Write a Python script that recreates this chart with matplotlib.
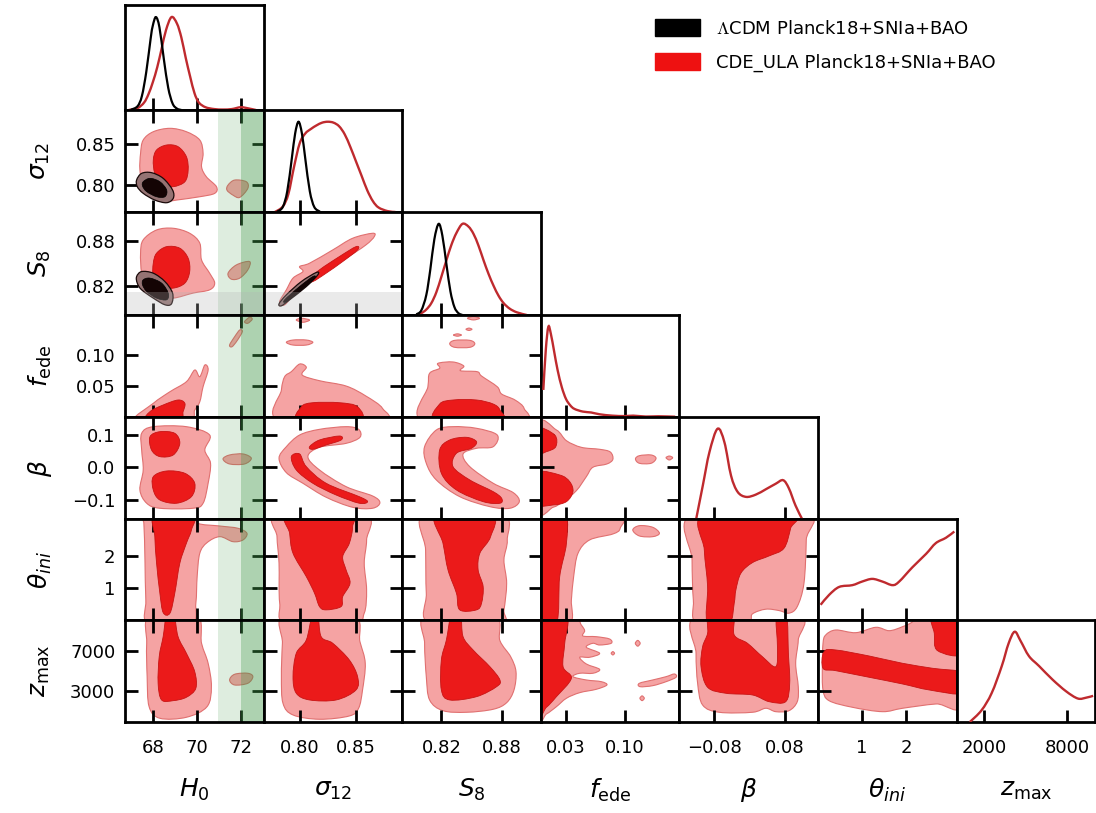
import numpy as np
import matplotlib.pyplot as plt
from matplotlib.path import Path
from matplotlib.patches import PathPatch, Patch

# ---------------- 1D marginals (peak normalised to 1) ----------
h0_x_lcdm = [67.0, 67.3, 67.5, 67.7, 67.9, 68.0, 68.14, 68.3, 68.5, 68.7, 68.9, 69.1, 69.3]
h0_p_lcdm = [0.003, 0.04, 0.15, 0.41, 0.77, 0.91, 1.0, 0.89, 0.55, 0.24, 0.07, 0.015, 0.0]
h0_x_cde = [66.9, 67.3, 67.6, 67.8, 68.0, 68.2, 68.4, 68.6, 68.85, 69.1, 69.3, 69.5, 69.7,
            69.9, 70.1, 70.4, 70.8, 71.2, 71.6, 72.0, 72.3, 72.7]
h0_p_cde = [0.0, 0.02, 0.08, 0.17, 0.3, 0.46, 0.66, 0.86, 1.0, 0.93, 0.78, 0.56, 0.36,
            0.18, 0.08, 0.03, 0.01, 0.005, 0.01, 0.03, 0.02, 0.0]

s12_x_lcdm = [0.780, 0.785, 0.789, 0.793, 0.796, 0.799, 0.802, 0.805, 0.809, 0.813, 0.818]
s12_p_lcdm = [0.004, 0.055, 0.23, 0.59, 0.87, 1.0, 0.87, 0.59, 0.23, 0.055, 0.004]
s12_x_cde = [0.778, 0.785, 0.790, 0.795, 0.800, 0.805, 0.810, 0.815, 0.820, 0.825, 0.830,
             0.835, 0.840, 0.845, 0.850, 0.855, 0.860, 0.865, 0.870, 0.878, 0.885]
s12_p_cde = [0.0, 0.06, 0.2, 0.5, 0.76, 0.87, 0.92, 0.96, 0.99, 1.0, 0.99,
             0.95, 0.86, 0.72, 0.56, 0.4, 0.24, 0.12, 0.05, 0.01, 0.0]

s8_x_lcdm = [0.795, 0.800, 0.805, 0.809, 0.813, 0.8173, 0.821, 0.825, 0.829, 0.833, 0.837, 0.841]
s8_p_lcdm = [0.007, 0.05, 0.22, 0.5, 0.83, 1.0, 0.87, 0.56, 0.26, 0.087, 0.02, 0.0]
s8_x_cde = [0.795, 0.800, 0.805, 0.810, 0.815, 0.820, 0.825, 0.830, 0.835, 0.841, 0.847,
            0.852, 0.857, 0.862, 0.867, 0.872, 0.877, 0.882, 0.888, 0.895, 0.905]
s8_p_cde = [0.0, 0.02, 0.06, 0.13, 0.25, 0.42, 0.6, 0.77, 0.9, 1.0, 0.97,
            0.89, 0.76, 0.6, 0.45, 0.32, 0.21, 0.13, 0.07, 0.03, 0.0]

fede_x_cde = [0.003, 0.006, 0.009, 0.012, 0.016, 0.020, 0.025, 0.030, 0.035, 0.040, 0.050,
              0.060, 0.070, 0.085, 0.100, 0.110, 0.125, 0.140, 0.160]
fede_p_cde = [0.3, 0.75, 1.0, 0.92, 0.72, 0.52, 0.33, 0.2, 0.13, 0.09, 0.06,
              0.05, 0.03, 0.015, 0.01, 0.015, 0.005, 0.008, 0.003]

beta_x_cde = [-0.121, -0.106, -0.091, -0.0725, -0.057, -0.042, -0.027, -0.008, 0.014,
              0.037, 0.059, 0.076, 0.089, 0.104, 0.119]
beta_p_cde = [0.0, 0.37, 0.74, 1.0, 0.85, 0.48, 0.3, 0.245, 0.27, 0.33, 0.39, 0.43, 0.34, 0.15, 0.0]

theta_x_cde = [0.06, 0.25, 0.48, 0.78, 1.0, 1.23, 1.46, 1.69, 1.84, 2.14, 2.45, 2.67, 2.90, 3.09]
theta_p_cde = [0.17, 0.28, 0.37, 0.39, 0.43, 0.46, 0.43, 0.39, 0.43, 0.59, 0.74, 0.86, 0.92, 0.99]

zmax_x_cde = [954, 1800, 2530, 3260, 3750, 4190, 4610, 5220, 5950, 6920, 7900, 8750, 9360, 9850]
zmax_p_cde = [0.0, 0.13, 0.32, 0.62, 0.87, 1.0, 0.9, 0.73, 0.62, 0.47, 0.34, 0.26, 0.27, 0.29]

# ---------------- 2D credible regions (outlines) ----------------
s12_h0_out = [(67.56, 0.8548), (68.02, 0.8648), (68.78, 0.8689), (69.53, 0.8648), (70.14, 0.8548),
              (70.29, 0.8388), (70.22, 0.8226), (70.44, 0.8105), (70.9, 0.7985), (70.82, 0.7905),
              (70.14, 0.7864), (69.08, 0.7824), (68.47, 0.7804), (67.87, 0.7864), (67.56, 0.7985),
              (67.41, 0.8186), (67.44, 0.8388)]
s12_h0_in = [(68.17, 0.8428), (68.63, 0.8488), (69.15, 0.8468), (69.53, 0.8347), (69.61, 0.8186),
             (69.46, 0.8045), (68.93, 0.7985), (68.4, 0.8005), (68.09, 0.8146), (68.02, 0.8307)]
s12_h0_blob = [(71.43, 0.8005), (71.73, 0.8065), (72.26, 0.8045), (72.33, 0.7965), (71.96, 0.7856),
               (71.65, 0.7884), (71.38, 0.7944)]
s12_h0_lcdm_out = [(67.26, 0.8066), (67.49, 0.8146), (67.94, 0.8154), (68.47, 0.8086), (68.90, 0.7945),
                   (68.93, 0.7845), (68.63, 0.7792), (68.09, 0.7824), (67.56, 0.7905), (67.29, 0.7985)]
s12_h0_lcdm_in = [(67.56, 0.8045), (67.87, 0.8086), (68.32, 0.8045), (68.63, 0.7945), (68.55, 0.7864),
                  (68.17, 0.7864), (67.72, 0.7925), (67.53, 0.7993)]

s8_h0_out = [(67.56, 0.8816), (68.17, 0.8949), (68.93, 0.8972), (69.68, 0.8905), (70.14, 0.8772),
             (70.22, 0.8548), (70.59, 0.837), (70.82, 0.8237), (70.59, 0.8147), (69.83, 0.8103),
             (68.93, 0.8036), (68.17, 0.8058), (67.72, 0.8147), (67.49, 0.837), (67.44, 0.8638)]
s8_h0_in = [(68.17, 0.8638), (68.63, 0.8726), (69.23, 0.8705), (69.61, 0.8571), (69.68, 0.8392),
            (69.46, 0.8237), (68.93, 0.817), (68.32, 0.8191), (68.02, 0.8325), (68.02, 0.8504)]
s8_h0_blob = [(71.43, 0.837), (71.81, 0.8481), (72.41, 0.8526), (72.33, 0.8415), (71.96, 0.8304),
              (71.58, 0.829)]
s8_h0_lcdm_out = [(67.26, 0.8325), (67.49, 0.8392), (68.02, 0.837), (68.55, 0.8258), (68.90, 0.8103),
                  (68.85, 0.796), (68.55, 0.7947), (68.02, 0.8036), (67.49, 0.8147), (67.29, 0.8237)]
s8_h0_lcdm_in = [(67.56, 0.8281), (67.87, 0.8304), (68.40, 0.8237), (68.70, 0.8103), (68.63, 0.8014),
                 (68.17, 0.8036), (67.72, 0.8124), (67.53, 0.8214)]

s8_s12_out = [(0.7823, 0.799), (0.7882, 0.8147), (0.7941, 0.8304), (0.8029, 0.8392), (0.8, 0.8459),
              (0.8088, 0.8504), (0.8294, 0.8682), (0.847, 0.8838), (0.8647, 0.8905), (0.8662, 0.886),
              (0.8588, 0.8749), (0.8412, 0.8571), (0.8235, 0.8415), (0.8088, 0.8258), (0.7971, 0.8124),
              (0.7867, 0.7947)]
s8_s12_in = [(0.8059, 0.8258), (0.8176, 0.8415), (0.8353, 0.8593), (0.85, 0.8726), (0.8514, 0.8682),
             (0.8382, 0.8526), (0.8235, 0.837), (0.8117, 0.8258)]
s8_s12_lcdm_out = [(0.7817, 0.796), (0.7882, 0.808), (0.8015, 0.8258), (0.8147, 0.8379), (0.8161, 0.8348),
                   (0.8059, 0.8191), (0.7911, 0.8014), (0.7838, 0.7933)]
s8_s12_lcdm_in = [(0.7867, 0.8014), (0.7999, 0.8191), (0.8117, 0.8325), (0.8132, 0.8304),
                  (0.8015, 0.8147), (0.7882, 0.799)]

fede_h0_out = [(67.2, -0.006), (68.02, 0.0221), (68.78, 0.0409), (69.53, 0.0571), (69.91, 0.076),
               (70.14, 0.0652), (70.37, 0.0841), (70.52, 0.076), (70.29, 0.049), (70.14, 0.0247),
               (69.91, 0.0113), (69.6, -0.006)]
fede_h0_in = [(67.87, 0.0087), (68.47, 0.0194), (69.15, 0.0275), (69.46, 0.0221), (69.38, 0.0087),
              (69.2, -0.006), (67.7, -0.006)]
fede_h0_blob1 = [(71.5, 0.1165), (71.73, 0.1299), (71.96, 0.1407), (72.08, 0.138), (71.84, 0.1234),
                 (71.61, 0.1137)]
fede_h0_blob2 = [(72.18, 0.1542), (72.41, 0.1613), (72.53, 0.1581), (72.33, 0.1516)]

fede_s12_out = [(0.7823, -0.006), (0.7838, 0.0436), (0.7867, 0.0652), (0.7926, 0.0733), (0.8, 0.0857),
                (0.8059, 0.0804), (0.8023, 0.0679), (0.8176, 0.0587), (0.8412, 0.0501), (0.8588, 0.0339),
                (0.8735, 0.014), (0.8721, -0.006)]
fede_s12_in = [(0.8, -0.006), (0.8015, 0.0166), (0.8117, 0.0231), (0.8353, 0.0231), (0.8514, 0.0166),
               (0.8523, -0.006)]
fede_s12_blob1 = [(0.7882, 0.1208), (0.7941, 0.1245), (0.8059, 0.1245), (0.8117, 0.1208),
                  (0.8059, 0.1164), (0.7941, 0.1164)]
fede_s12_blob2 = [(0.7970, 0.1569), (0.8015, 0.1597), (0.8088, 0.1569), (0.8029, 0.1532)]

fede_s8_out = [(0.8016, -0.006), (0.8066, 0.049), (0.8083, 0.0707), (0.8183, 0.0788), (0.8166, 0.0868),
               (0.8316, 0.089), (0.8423, 0.0825), (0.839, 0.0749), (0.8556, 0.0733), (0.86, 0.0663),
               (0.8756, 0.049), (0.88, 0.0372), (0.8933, 0.0275), (0.9023, 0.014), (0.899, -0.006)]
fede_s8_in = [(0.815, -0.006), (0.8183, 0.021), (0.8316, 0.0275), (0.855, 0.0275), (0.8716, 0.021),
              (0.8783, 0.0113), (0.8783, -0.006)]
fede_s8_blob1 = [(0.8283, 0.1186), (0.8333, 0.124), (0.8483, 0.124), (0.8533, 0.1186), (0.8483, 0.1127),
                 (0.8333, 0.1127)]
fede_s8_blob2 = [(0.832, 0.1326), (0.836, 0.1345), (0.840, 0.1326), (0.836, 0.1307)]
fede_s8_blob3 = [(0.8445, 0.1419), (0.8475, 0.1438), (0.8505, 0.1419), (0.8475, 0.14)]
fede_s8_blob4 = [(0.846, 0.1597), (0.852, 0.1625), (0.858, 0.1597), (0.852, 0.157)]

beta_h0_out = [(67.49, 0.1048), (68.02, 0.1252), (69.53, 0.1252), (70.59, 0.0996), (70.37, 0.0535),
               (70.63, 0.0125), (70.52, -0.049), (70.29, -0.1105), (69.83, -0.1259), (68.32, -0.1259),
               (67.72, -0.1105), (67.41, -0.0696), (67.56, -0.0081), (67.49, 0.0535)]
beta_h0_in1 = [(67.87, 0.0944), (68.32, 0.1098), (69.0, 0.1048), (69.23, 0.0741), (68.93, 0.0381),
               (68.32, 0.033), (67.94, 0.0535)]
beta_h0_in2 = [(68.02, -0.0287), (68.63, -0.0112), (69.46, -0.0183), (69.91, -0.049), (69.76, -0.0902),
               (69.08, -0.1105), (68.32, -0.1004), (68.02, -0.0696)]
beta_h0_blob = [(71.2, 0.0258), (71.5, 0.0381), (72.11, 0.0412), (72.49, 0.0279), (72.18, 0.0104),
                (71.5, 0.0104)]

beta_s12_out = [(0.7817, 0.0279), (0.7882, 0.0636), (0.8, 0.0996), (0.8176, 0.117), (0.8412, 0.1252),
                (0.8523, 0.117), (0.8535, 0.0925), (0.8412, 0.0739), (0.8176, 0.0617), (0.8073, 0.0329),
                (0.8176, -0.0081), (0.8412, -0.0594), (0.8647, -0.0881), (0.8712, -0.1087),
                (0.8647, -0.1259), (0.847, -0.1229), (0.8235, -0.092), (0.8029, -0.049), (0.7882, -0.0163)]
beta_s12_in1 = [(0.8088, 0.0636), (0.8176, 0.0842), (0.8353, 0.0965), (0.8368, 0.0842), (0.8235, 0.0688),
                (0.8117, 0.0556)]
beta_s12_in2 = [(0.7926, 0.0329), (0.8, 0.0412), (0.8059, 0.0022), (0.8235, -0.049), (0.8529, -0.0902),
                (0.8603, -0.1056), (0.8529, -0.1105), (0.8323, -0.085), (0.8117, -0.049), (0.7970, -0.0081)]

beta_s8_out = [(0.8033, 0.0636), (0.815, 0.115), (0.8316, 0.1252), (0.855, 0.1202), (0.8756, 0.0996),
               (0.8716, 0.0636), (0.855, 0.0587), (0.8416, 0.0412), (0.8483, 0.0021), (0.8716, -0.049),
               (0.8916, -0.0779), (0.8976, -0.1056), (0.8883, -0.1259), (0.8683, -0.121),
               (0.8383, -0.0902), (0.815, -0.0388), (0.805, 0.0125)]
beta_s8_in = [(0.8183, 0.0535), (0.8283, 0.0842), (0.845, 0.0925), (0.855, 0.079), (0.85, 0.0587),
              (0.835, 0.0433), (0.8316, 0.0021), (0.8483, -0.0388), (0.8716, -0.0748), (0.88, -0.0952),
              (0.8783, -0.1105), (0.8616, -0.1056), (0.835, -0.0696), (0.82, -0.0183)]

beta_fede_out = [(-0.004, 0.13), (0.0186, 0.115), (0.0305, 0.0821), (0.0482, 0.0617), (0.07, 0.0556),
                 (0.0827, 0.0473), (0.0858, 0.0248), (0.0787, 0.0104), (0.062, 0.0002), (0.0542, -0.0287),
                 (0.0423, -0.0718), (0.0265, -0.1056), (0.0146, -0.1229), (-0.004, -0.13)]
beta_fede_in1 = [(-0.004, 0.12), (0.0166, 0.0996), (0.0178, 0.0636), (0.0067, 0.0483), (-0.004, 0.045)]
beta_fede_in2 = [(-0.004, -0.0183), (0.0225, -0.0235), (0.0344, -0.044), (0.0383, -0.0748),
                 (0.0305, -0.1056), (0.0146, -0.1158), (-0.004, -0.1107)]
beta_fede_blob1 = [(0.1127, 0.0258), (0.1174, 0.0359), (0.1313, 0.0381), (0.1372, 0.0279),
                   (0.1313, 0.0125), (0.1174, 0.0125)]
beta_fede_blob2 = [(0.1491, 0.0298), (0.153, 0.0348), (0.157, 0.0298), (0.153, 0.0227)]

theta_h0_out = [(67.49, 3.3), (69.98, 3.3), (70.06, 3.008), (71.05, 2.924), (71.88, 2.853), (72.29, 2.697),
                (72.11, 2.49), (71.65, 2.437), (71.05, 2.592), (70.47, 2.406), (70.14, 2.076), (70.02, 1.35),
                (69.96, 0.524), (69.76, -0.1), (67.79, -0.1), (67.68, 0.626), (67.64, 1.868), (67.59, 3.008)]
theta_h0_in = [(68.09, 3.3), (69.83, 3.3), (69.76, 2.8), (69.53, 2.387), (69.23, 1.766), (69.0, 0.834),
               (68.78, 0.213), (68.47, 0.232), (68.32, 0.834), (68.17, 1.766), (68.09, 2.592)]

theta_s12_out = [(0.7808, 3.3), (0.8573, 3.3), (0.8594, 2.49), (0.8573, 1.766), (0.8594, 0.937),
                 (0.8573, 0.213), (0.847, -0.1), (0.7882, -0.1), (0.7823, 0.524), (0.7817, 1.766),
                 (0.7799, 2.592)]
theta_s12_in = [(0.7896, 3.3), (0.8441, 3.3), (0.847, 2.903), (0.8441, 2.387), (0.8382, 1.97),
                (0.8412, 1.558), (0.8447, 1.145), (0.8382, 0.728), (0.8368, 0.418), (0.8235, 0.315),
                (0.8176, 0.418), (0.8132, 0.834), (0.8059, 1.35), (0.7941, 2.076), (0.7911, 2.697)]

theta_s8_out = [(0.8033, 3.3), (0.88, 3.3), (0.8856, 2.49), (0.8823, 1.868), (0.885, 1.145),
                (0.8823, 0.315), (0.8783, -0.1), (0.8083, -0.1), (0.805, 0.834), (0.8043, 2.179)]
theta_s8_in = [(0.815, 3.3), (0.87, 3.3), (0.869, 2.592), (0.8583, 2.076), (0.8566, 1.558), (0.8616, 1.04),
               (0.86, 0.524), (0.855, 0.315), (0.8383, 0.315), (0.835, 0.834), (0.8266, 1.558),
               (0.8216, 2.387)]

theta_fede_out = [(-0.004, 3.3), (0.0917, 3.3), (0.0945, 2.853), (0.0858, 2.676), (0.0581, 2.49),
                  (0.0443, 2.076), (0.0391, 1.35), (0.0364, 0.626), (0.0344, -0.1), (-0.004, -0.1)]
theta_fede_in = [(-0.004, 3.3), (0.0285, 3.3), (0.0305, 2.387), (0.0225, 1.35), (0.0186, -0.1),
                 (-0.004, -0.1)]
theta_fede_blob = [(0.1095, 2.8), (0.1174, 2.934), (0.1332, 2.884), (0.1412, 2.697), (0.1332, 2.592),
                   (0.1174, 2.614)]

theta_beta_out = [(-0.129, 3.3), (0.127, 3.3), (0.1284, 2.49), (0.1232, 1.145), (0.108, 0.418),
                  (0.0893, 0.213), (0.0667, 0.294), (0.0367, 0.336), (0.0065, 0.191), (-0.0084, -0.1),
                  (-0.1177, -0.1), (-0.1274, 0.626), (-0.1303, 1.868)]
theta_beta_in = [(-0.1026, 3.3), (0.0983, 3.3), (0.093, 2.853), (0.078, 2.232), (0.0442, 1.993),
                 (0.0065, 1.784), (-0.0197, 1.455), (-0.031, 0.937), (-0.0348, 0.524), (-0.046, -0.1),
                 (-0.095, -0.1), (-0.0951, 1.04), (-0.1026, 2.179)]

z_h0_out = [(67.87, 10500), (69.98, 10500), (70.22, 7717), (70.52, 5757), (70.67, 3463), (70.47, 1503),
            (69.53, 464), (68.32, 366), (67.83, 1503), (67.74, 4443), (67.72, 7717)]
z_h0_in = [(68.63, 10500), (68.96, 10500), (69.15, 8364), (69.53, 6737), (69.91, 4933), (69.96, 3306),
           (69.53, 2425), (68.93, 2092), (68.4, 2160), (68.24, 3796), (68.29, 6403), (68.47, 8364)]
z_h0_blob = [(71.5, 4120), (71.73, 4679), (72.33, 4777), (72.56, 4443), (72.33, 3797), (71.73, 3630)]

z_s12_out = [(0.7867, 10500), (0.847, 10500), (0.8535, 7873), (0.8582, 5757), (0.8558, 3140),
             (0.8523, 1346), (0.8441, 592), (0.8176, 269), (0.7941, 690), (0.7852, 1837),
             (0.7838, 4443), (0.7847, 7717)]
z_s12_in = [(0.8112, 10500), (0.8161, 10500), (0.8191, 8364), (0.8294, 7717), (0.8441, 6080),
            (0.8514, 4443), (0.85, 3140), (0.8324, 2160), (0.8088, 2160), (0.797, 2817),
            (0.7941, 4443), (0.797, 6737), (0.8059, 8040)]

z_s8_out = [(0.805, 10500), (0.8716, 10500), (0.8783, 7971), (0.889, 6403), (0.8943, 4933),
            (0.8923, 3140), (0.885, 1896), (0.8716, 1249), (0.845, 954), (0.8216, 1111),
            (0.8083, 2160), (0.805, 4443), (0.8033, 7717)]
z_s8_in = [(0.83, 10500), (0.839, 10500), (0.8416, 8364), (0.8516, 7060), (0.8683, 5424),
           (0.8783, 4120), (0.875, 3463), (0.855, 2483), (0.8283, 2160), (0.82, 3140),
           (0.82, 6080), (0.825, 8040)]

z_fede_out = [(-0.004, 10500), (0.0383, 10500), (0.0482, 9510), (0.0522, 8952), (0.0502, 8432),
              (0.066, 8364), (0.0818, 8138), (0.0838, 7717), (0.07, 7550), (0.062, 7717),
              (0.0542, 7325), (0.07, 6737), (0.0581, 6345), (0.0463, 6345), (0.0542, 5688),
              (0.07, 5163), (0.062, 4777), (0.0463, 4777), (0.0383, 4443), (0.0542, 4120),
              (0.072, 3953), (0.0787, 3630), (0.066, 3206), (0.0463, 2875), (0.0305, 2327),
              (0.0186, 1503), (0.0067, 788), (-0.004, 500)]
z_fede_in = [(-0.004, 10500), (0.0305, 10500), (0.0285, 7717), (0.0265, 5424), (0.0364, 4287),
             (0.0186, 2483), (0.0067, 1444), (-0.004, 1000)]
z_fede_blob1 = [(0.1174, 3797), (0.1332, 4120), (0.1491, 4443), (0.159, 4708), (0.161, 4385),
                (0.1491, 3953), (0.1332, 3561), (0.1182, 3463)]
z_fede_blob2 = [(0.1125, 7717), (0.1154, 8000), (0.1183, 7717), (0.1154, 7434)]
z_fede_blob3 = [(0.1180, 2327), (0.1206, 2560), (0.1232, 2327), (0.1206, 2094)]
z_fede_blob4 = [(0.0838, 6737), (0.0858, 6900), (0.0878, 6737), (0.0858, 6574)]

z_beta_out = [(-0.1177, 10500), (0.108, 10500), (0.1103, 8040), (0.1044, 5757), (0.1103, 3463),
              (0.108, 1993), (0.0893, 1111), (0.0593, 1013), (0.0367, 1346), (0.0065, 954),
              (-0.0687, 954), (-0.1064, 1670), (-0.1177, 3797), (-0.1213, 6737)]
z_beta_in = [(-0.0913, 10500), (-0.0387, 10500), (-0.0348, 8530), (-0.0048, 7717), (0.029, 6403),
             (0.0593, 5424), (0.0631, 7384), (0.0608, 10500), (0.0834, 10500), (0.0879, 6737),
             (0.0909, 3797), (0.0818, 1993), (0.0442, 1993), (0.0065, 2650), (-0.0536, 2817),
             (-0.0951, 3404), (-0.11, 5424), (-0.1064, 7384), (-0.0951, 8697)]

z_theta_out = [(0.175, 8530), (0.402, 9020), (0.857, 8757), (1.311, 9284), (1.614, 8952), (1.916, 9343),
               (2.143, 9834), (2.2, 10500), (3.3, 10500), (3.3, 1800), (2.675, 1768), (1.916, 1346),
               (1.461, 1013), (0.78, 1444), (0.25, 2092), (0.114, 3140), (0.098, 5424), (0.114, 7717)]
z_theta_in1 = [(0.136, 6894), (0.402, 7060), (1.159, 6472), (1.916, 5757), (2.598, 5267), (3.3, 4777),
               (3.3, 2817), (2.523, 3140), (1.916, 3728), (1.159, 4385), (0.402, 5031), (0.114, 5267)]
z_theta_in2 = [(2.598, 10500), (3.3, 10500), (3.3, 6737), (2.711, 6991), (2.636, 8697)]

# axis settings
lims = [(66.73, 73.05), (0.768, 0.891), (0.781, 0.919), (0.0, 0.165), (-0.159, 0.155), (0.0, np.pi), (0, 10000)]
xticks = [[68, 70, 72], [0.80, 0.85], [0.82, 0.88], [0.03, 0.10], [-0.08, 0.08], [1, 2], [2000, 8000]]
xticklabels = [['68', '70', '72'], ['0.80', '0.85'], ['0.82', '0.88'], ['0.03', '0.10'],
               ['\u22120.08', '0.08'], ['1', '2'], ['2000', '8000']]
yticks = [None, [0.80, 0.85], [0.82, 0.88], [0.05, 0.10], [-0.1, 0.0, 0.1], [1, 2], [3000, 7000]]
yticklabels = [None, ['0.80', '0.85'], ['0.82', '0.88'], ['0.05', '0.10'], ['\u22120.1', '0.0', '0.1'],
               ['1', '2'], ['3000', '7000']]
names = [r'$H_0$', r'$\sigma_{12}$', r'$S_8$', r'$f_{\rm ede}$', r'$\beta$', r'$\theta_{ini}$', r'$z_{\rm max}$']

OUT_C, IN_C = '#f5a3a3', '#eb1a1a'
LOUT_C, LIN_C = '#957373', '#140404'
LINE_C = '#bf2a2e'

marg_cde = {0: (h0_x_cde, h0_p_cde), 1: (s12_x_cde, s12_p_cde), 2: (s8_x_cde, s8_p_cde),
            3: (fede_x_cde, fede_p_cde), 4: (beta_x_cde, beta_p_cde), 5: (theta_x_cde, theta_p_cde),
            6: (zmax_x_cde, zmax_p_cde)}
marg_lcdm = {0: (h0_x_lcdm, h0_p_lcdm), 1: (s12_x_lcdm, s12_p_lcdm), 2: (s8_x_lcdm, s8_p_lcdm)}

# o = outer region, i = inner region, lo/li = LCDM regions
regions = {
    (1, 0): [('o', s12_h0_out), ('o', s12_h0_blob), ('i', s12_h0_in), ('lo', s12_h0_lcdm_out), ('li', s12_h0_lcdm_in)],
    (2, 0): [('o', s8_h0_out), ('o', s8_h0_blob), ('i', s8_h0_in), ('lo', s8_h0_lcdm_out), ('li', s8_h0_lcdm_in)],
    (2, 1): [('o', s8_s12_out), ('i', s8_s12_in), ('lo', s8_s12_lcdm_out), ('li', s8_s12_lcdm_in)],
    (3, 0): [('o', fede_h0_out), ('o', fede_h0_blob1), ('o', fede_h0_blob2), ('i', fede_h0_in)],
    (3, 1): [('o', fede_s12_out), ('o', fede_s12_blob1), ('o', fede_s12_blob2), ('i', fede_s12_in)],
    (3, 2): [('o', fede_s8_out), ('o', fede_s8_blob1), ('o', fede_s8_blob2), ('o', fede_s8_blob3),
             ('o', fede_s8_blob4), ('i', fede_s8_in)],
    (4, 0): [('o', beta_h0_out), ('o', beta_h0_blob), ('i', beta_h0_in1), ('i', beta_h0_in2)],
    (4, 1): [('o', beta_s12_out), ('i', beta_s12_in1), ('i', beta_s12_in2)],
    (4, 2): [('o', beta_s8_out), ('i', beta_s8_in)],
    (4, 3): [('o', beta_fede_out), ('o', beta_fede_blob1), ('o', beta_fede_blob2),
             ('i', beta_fede_in1), ('i', beta_fede_in2)],
    (5, 0): [('o', theta_h0_out), ('i', theta_h0_in)],
    (5, 1): [('o', theta_s12_out), ('i', theta_s12_in)],
    (5, 2): [('o', theta_s8_out), ('i', theta_s8_in)],
    (5, 3): [('o', theta_fede_out), ('o', theta_fede_blob), ('i', theta_fede_in)],
    (5, 4): [('o', theta_beta_out), ('i', theta_beta_in)],
    (6, 0): [('o', z_h0_out), ('o', z_h0_blob), ('i', z_h0_in)],
    (6, 1): [('o', z_s12_out), ('i', z_s12_in)],
    (6, 2): [('o', z_s8_out), ('i', z_s8_in)],
    (6, 3): [('o', z_fede_out), ('o', z_fede_blob1), ('o', z_fede_blob2), ('o', z_fede_blob3),
             ('o', z_fede_blob4), ('i', z_fede_in)],
    (6, 4): [('o', z_beta_out), ('i', z_beta_in)],
    (6, 5): [('o', z_theta_out), ('i', z_theta_in1), ('i', z_theta_in2)],
}
styles = {'o': dict(fc=OUT_C, ec='#e07070', lw=0.8, zorder=1.5),
          'i': dict(fc=IN_C, ec='#c81414', lw=0.6, zorder=1.6),
          'lo': dict(fc=LOUT_C, ec='#1a0a0a', lw=0.9, zorder=1.7),
          'li': dict(fc=LIN_C, ec='#000000', lw=0.5, zorder=1.8)}


def smooth_path(pts, closed=True):
    # catmull-rom through the read points, drawn as cubic bezier segments
    p = np.asarray(pts, float)
    if closed:
        P = np.vstack([p[-1], p, p[0], p[1]])
    else:
        P = np.vstack([p[0], p, p[-1]])
    verts, codes = [P[1]], [Path.MOVETO]
    for i in range(1, len(P) - 2):
        c1 = P[i] + (P[i + 1] - P[i - 1]) / 6
        c2 = P[i + 1] - (P[i + 2] - P[i]) / 6
        verts += [c1, c2, P[i + 1]]
        codes += [Path.CURVE4] * 3
    if closed:
        verts.append(P[1])
        codes.append(Path.CLOSEPOLY)
    return Path(verts, codes)


W, H = 1096, 813
tops = [5, 110, 212, 315, 417, 519, 620]
bots = [110, 212, 315, 417, 519, 620, 722]
left0, colw = 125, 138.6

fig = plt.figure(figsize=(W / 100, H / 100), dpi=100)

for r in range(7):
    for c in range(r + 1):
        ax = fig.add_axes([(left0 + c * colw) / W, 1 - bots[r] / H, colw / W, (bots[r] - tops[r]) / H])
        for s in ax.spines.values():
            s.set_linewidth(2.0)
        ax.set_xlim(lims[c])
        ax.set_xticks(xticks[c])
        ax.set_xticklabels(xticklabels[c] if r == 6 else [])
        if r == c:
            # 1D marginal
            xs, ps = marg_cde[c]
            ax.add_patch(PathPatch(smooth_path(list(zip(xs, ps)), closed=False),
                                   fill=False, ec=LINE_C, lw=1.7, zorder=3))
            if c in marg_lcdm:
                xs, ps = marg_lcdm[c]
                ax.add_patch(PathPatch(smooth_path(list(zip(xs, ps)), closed=False),
                                       fill=False, ec='black', lw=1.6, zorder=3.1))
            ax.set_ylim(0, 1.13)
            ax.set_yticks([])
            ax.tick_params(axis='x', direction='in', length=9, width=2, bottom=True, top=False,
                           labelsize=13, pad=12)
        else:
            ax.set_ylim(lims[r])
            ax.set_yticks(yticks[r])
            ax.set_yticklabels(yticklabels[r] if c == 0 else [])
            for kind, pts in regions[(r, c)]:
                ax.add_patch(PathPatch(smooth_path(pts), **styles[kind]))
            ax.tick_params(direction='in', length=9, width=2, top=True, right=True,
                           labelsize=13)
            ax.tick_params(axis='x', pad=12)
            ax.tick_params(axis='y', pad=7)
            if c == 0:
                # SH0ES band
                ax.axvspan(70.96, 75.12, color='#3c9646', alpha=0.17, lw=0, zorder=2.2)
                ax.axvspan(72.0, 74.08, color='#3c9646', alpha=0.30, lw=0, zorder=2.2)
            if r == 2:
                ax.axhspan(0.70, 0.812, color='#b4b4b4', alpha=0.28, lw=0, zorder=2.2)

# axis names
for i in range(7):
    fig.text((left0 + (i + 0.5) * colw) / W, 1 - 790 / H, names[i], ha='center', va='center', fontsize=18)
    if i > 0:
        fig.text(40 / W, 1 - (tops[i] + bots[i]) / 2 / H, names[i], ha='center', va='center',
                 rotation=90, fontsize=18)

leg = fig.legend(handles=[Patch(fc='black', ec='black'), Patch(fc='#ee1111', ec='#ee1111')],
                 labels=[r'$\Lambda$CDM Planck18+SNIa+BAO', 'CDE_ULA Planck18+SNIa+BAO'],
                 loc='upper left', bbox_to_anchor=(655 / W, 1 - 19 / H), frameon=False, fontsize=13,
                 handlelength=2.5, handleheight=1.1, labelspacing=0.85, handletextpad=0.9,
                 borderaxespad=0, borderpad=0)
for t in leg.get_texts():
    t.set_math_fontfamily('cm')

fig.savefig('out.png', dpi=100)
